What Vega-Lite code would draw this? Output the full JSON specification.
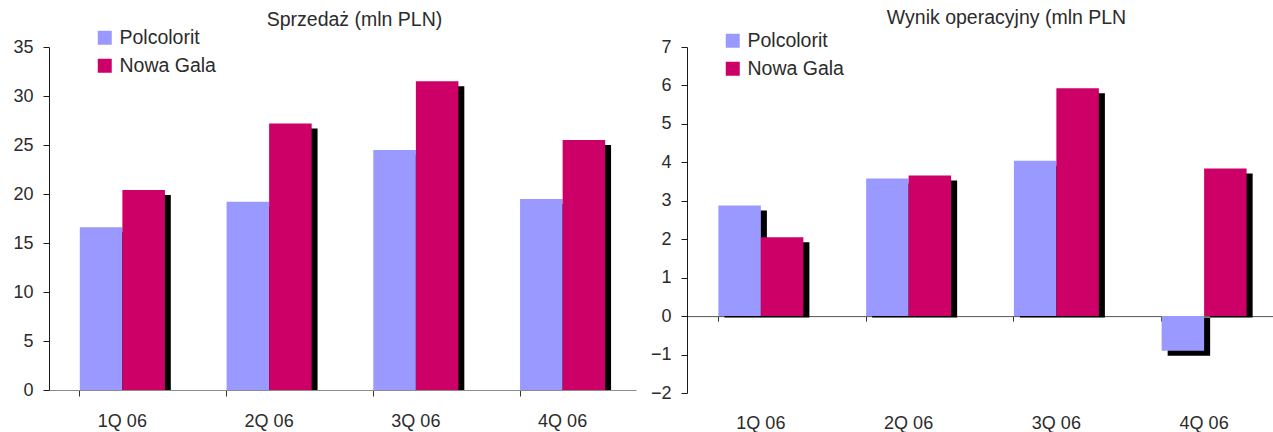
{
  "$schema": "https://vega.github.io/schema/vega-lite/v6.json",
  "background": "white",
  "padding": {"left": 12, "top": 8, "right": 0, "bottom": 0},
  "spacing": 14,
  "config": {
    "font": "Liberation Sans",
    "view": {"stroke": null},
    "axis": {
      "labelFont": "Liberation Sans",
      "labelFontSize": 18,
      "labelColor": "#2b2b2b",
      "title": null,
      "grid": false,
      "domainColor": "#1a1a1a",
      "tickColor": "#1a1a1a"
    },
    "legend": {
      "orient": "none",
      "direction": "vertical",
      "title": null,
      "padding": 0,
      "symbolType": "square",
      "symbolSize": 196,
      "symbolStrokeWidth": 0,
      "labelFont": "Liberation Sans",
      "labelFontSize": 19.5,
      "labelColor": "#2b2b2b",
      "labelOffset": 5,
      "rowPadding": 7
    },
    "title": {
      "font": "Liberation Sans",
      "fontSize": 19.5,
      "fontWeight": "normal",
      "color": "#2b2b2b"
    }
  },
  "datasets": {
    "sprzedaz": [
      {"kwartal": "1Q 06", "spolka": "Polcolorit", "wartosc": 16.6},
      {"kwartal": "1Q 06", "spolka": "Nowa Gala", "wartosc": 20.4},
      {"kwartal": "2Q 06", "spolka": "Polcolorit", "wartosc": 19.2},
      {"kwartal": "2Q 06", "spolka": "Nowa Gala", "wartosc": 27.2},
      {"kwartal": "3Q 06", "spolka": "Polcolorit", "wartosc": 24.5},
      {"kwartal": "3Q 06", "spolka": "Nowa Gala", "wartosc": 31.5},
      {"kwartal": "4Q 06", "spolka": "Polcolorit", "wartosc": 19.5},
      {"kwartal": "4Q 06", "spolka": "Nowa Gala", "wartosc": 25.5}
    ],
    "wynik": [
      {"kwartal": "1Q 06", "spolka": "Polcolorit", "wartosc": 2.88},
      {"kwartal": "1Q 06", "spolka": "Nowa Gala", "wartosc": 2.05},
      {"kwartal": "2Q 06", "spolka": "Polcolorit", "wartosc": 3.58},
      {"kwartal": "2Q 06", "spolka": "Nowa Gala", "wartosc": 3.66},
      {"kwartal": "3Q 06", "spolka": "Polcolorit", "wartosc": 4.04},
      {"kwartal": "3Q 06", "spolka": "Nowa Gala", "wartosc": 5.93},
      {"kwartal": "4Q 06", "spolka": "Polcolorit", "wartosc": -0.9},
      {"kwartal": "4Q 06", "spolka": "Nowa Gala", "wartosc": 3.84}
    ]
  },
  "hconcat": [
    {
      "width": 587,
      "height": 343,
      "title": {"text": "Sprzedaż (mln PLN)", "dx": 12, "offset": -2.5},
      "data": {"name": "sprzedaz"},
      "layer": [
        {
          "mark": {"type": "bar", "color": "#000000", "yOffset": 5, "y2Offset": 0.01},
          "encoding": {
            "x": {
              "field": "kwartal", "type": "nominal", "sort": null,
              "scale": {"paddingInner": 0.42, "paddingOuter": 0.21},
              "axis": {"orient": "bottom", "bandPosition": 0, "labels": false, "domain": true, "domainColor": "#8c8c8c", "ticks": true, "tickSize": 6, "tickColor": "#333333"}
            },
            "xOffset": {"field": "spolka", "type": "nominal", "sort": ["Polcolorit", "Nowa Gala"], "scale": {"range": [6, 91], "paddingInner": 0, "paddingOuter": 0}},
            "y": {
              "field": "wartosc", "type": "quantitative",
              "scale": {"domain": [0, 35], "nice": false},
              "axis": {"values": [0, 5, 10, 15, 20, 25, 30, 35], "tickSize": 6, "labelPadding": 10}
            },
            "y2": {"datum": 0}
          }
        },
        {
          "mark": {"type": "bar"},
          "encoding": {
            "x": {
              "field": "kwartal", "type": "nominal", "sort": null,
              "axis": {"orient": "bottom", "domain": false, "ticks": false, "tickSize": 0, "labelPadding": 22, "labelAngle": 0}
            },
            "xOffset": {"field": "spolka", "type": "nominal", "sort": ["Polcolorit", "Nowa Gala"], "scale": {"paddingInner": 0, "paddingOuter": 0}},
            "y": {
              "field": "wartosc", "type": "quantitative",
              "axis": {"values": [0, 5, 10, 15, 20, 25, 30, 35], "tickSize": 6, "labelPadding": 10}
            },
            "color": {
              "field": "spolka", "type": "nominal", "sort": ["Polcolorit", "Nowa Gala"],
              "scale": {"domain": ["Polcolorit", "Nowa Gala"], "range": ["#9999ff", "#cc0066"]},
              "legend": {"legendX": 46, "legendY": -19}
            }
          }
        }
      ],
      "resolve": {"scale": {"xOffset": "independent"}, "axis": {"x": "independent"}}
    },
    {
      "width": 591,
      "height": 346,
      "title": {"text": "Wynik operacyjny (mln PLN", "dx": 24, "offset": 2.5},
      "data": {"name": "wynik"},
      "layer": [
        {
          "mark": {"type": "bar", "color": "#000000", "yOffset": 5, "y2Offset": 1.5},
          "encoding": {
            "x": {
              "field": "kwartal", "type": "nominal", "sort": null,
              "scale": {"paddingInner": 0.425, "paddingOuter": 0.2125},
              "axis": {"orient": "bottom", "bandPosition": 0, "labels": false, "domain": true, "domainColor": "#555555", "ticks": true, "tickSize": 5, "tickColor": "#333333", "offset": -76.9}
            },
            "xOffset": {"field": "spolka", "type": "nominal", "sort": ["Polcolorit", "Nowa Gala"], "scale": {"range": [6, 91], "paddingInner": 0, "paddingOuter": 0}},
            "y": {
              "field": "wartosc", "type": "quantitative",
              "scale": {"domain": [-2, 7], "nice": false},
              "axis": {"values": [-2, -1, 0, 1, 2, 3, 4, 5, 6, 7], "tickSize": 6, "labelPadding": 10}
            },
            "y2": {"datum": 0}
          }
        },
        {
          "mark": {"type": "bar"},
          "encoding": {
            "x": {
              "field": "kwartal", "type": "nominal", "sort": null,
              "axis": {"orient": "bottom", "domain": false, "ticks": false, "tickSize": 0, "labelPadding": 21, "labelAngle": 0}
            },
            "xOffset": {"field": "spolka", "type": "nominal", "sort": ["Polcolorit", "Nowa Gala"], "scale": {"paddingInner": 0, "paddingOuter": 0}},
            "y": {
              "field": "wartosc", "type": "quantitative",
              "axis": {"values": [-2, -1, 0, 1, 2, 3, 4, 5, 6, 7], "tickSize": 6, "labelPadding": 10}
            },
            "color": {
              "field": "spolka", "type": "nominal", "sort": ["Polcolorit", "Nowa Gala"],
              "scale": {"domain": ["Polcolorit", "Nowa Gala"], "range": ["#9999ff", "#cc0066"]},
              "legend": {"legendX": 36, "legendY": -16}
            }
          }
        }
      ],
      "resolve": {"scale": {"xOffset": "independent"}, "axis": {"x": "independent"}}
    }
  ],
  "resolve": {"scale": {"x": "independent", "y": "independent", "xOffset": "independent", "color": "independent"}, "legend": {"color": "independent"}}
}
